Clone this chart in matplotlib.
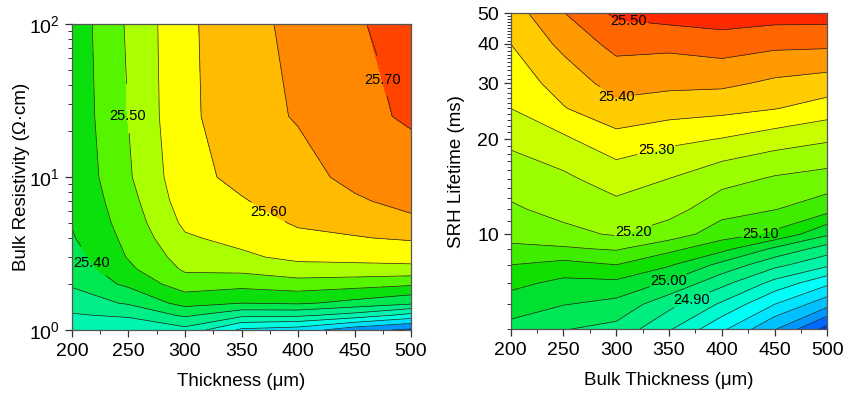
import numpy as np
import matplotlib.pyplot as plt
from matplotlib.ticker import LogLocator, LogFormatterMathtext, FixedLocator, NullFormatter

plt.rcParams.update({
    "font.family": ["Liberation Sans", "DejaVu Sans"],
    "mathtext.fontset": "custom",
    "mathtext.rm": "Liberation Sans",
    "font.size": 14,
})

# ---- data (simulated efficiency, %) ----
thickness = [200, 250, 300, 350, 400, 450, 500]          # um

# left panel: rows = bulk resistivity, columns = thickness
resistivity = [1, 1.25, 1.5, 2, 2.5, 3, 4, 5, 7, 10, 25, 100]   # Ohm.cm
eff_rho_200 = [25.27, 25.296, 25.323, 25.357, 25.369, 25.38, 25.396, 25.402, 25.406, 25.41, 25.415, 25.418]
eff_rho_250 = [25.265, 25.307, 25.356, 25.411, 25.44, 25.4535, 25.463, 25.471, 25.482, 25.494, 25.502, 25.507]
eff_rho_300 = [25.285, 25.359, 25.418, 25.477, 25.507, 25.521, 25.544, 25.56, 25.575, 25.583, 25.59, 25.59]
eff_rho_350 = [25.19, 25.314, 25.40, 25.468, 25.513, 25.542, 25.564, 25.577, 25.597, 25.613, 25.625, 25.631]
eff_rho_400 = [25.175, 25.311, 25.407, 25.48, 25.533, 25.561, 25.59, 25.605, 25.619, 25.634, 25.655, 25.664]
eff_rho_450 = [25.12, 25.282, 25.386, 25.472, 25.535, 25.564, 25.597, 25.617, 25.645, 25.662, 25.68, 25.693]
eff_rho_500 = [25.09, 25.234, 25.361, 25.459, 25.537, 25.568, 25.606, 25.642, 25.662, 25.676, 25.71, 25.725]

# right panel: rows = SRH lifetime, columns = thickness
lifetime = [5, 6, 7, 8, 9, 10, 12, 15, 20, 25, 30, 40, 50]     # ms
eff_tau_200 = [24.984, 25.026, 25.064, 25.10, 25.142, 25.164, 25.193, 25.223, 25.262, 25.30, 25.319, 25.35, 25.375]
eff_tau_250 = [24.952, 25.002, 25.037, 25.084, 25.144, 25.187, 25.216, 25.241, 25.292, 25.347, 25.372, 25.413, 25.448]
eff_tau_300 = [24.935, 24.985, 25.039, 25.10, 25.156, 25.205, 25.235, 25.273, 25.334, 25.386, 25.419, 25.466, 25.51]
eff_tau_350 = [24.855, 24.916, 24.993, 25.056, 25.115, 25.176, 25.219, 25.25, 25.314, 25.374, 25.412, 25.463, 25.525]
eff_tau_400 = [24.76, 24.842, 24.915, 24.986, 25.067, 25.124, 25.171, 25.218, 25.298, 25.367, 25.41, 25.477, 25.53]
eff_tau_450 = [24.653, 24.75, 24.834, 24.915, 24.992, 25.09, 25.152, 25.195, 25.276, 25.352, 25.391, 25.463, 25.525]
eff_tau_500 = [24.53, 24.668, 24.761, 24.86, 24.928, 25.008, 25.12, 25.183, 25.257, 25.328, 25.379, 25.461, 25.525]

# contour levels and band colours (Origin-like rainbow)
left_levels = [25.00, 25.10, 25.15, 25.20, 25.25, 25.30, 25.35, 25.40, 25.45,
               25.50, 25.55, 25.60, 25.65, 25.70, 25.80]
left_colors = ["#0050F0", "#0098FF", "#00E0FF", "#00FFE0", "#00F5B0", "#00EE88",
               "#00E850", "#0CE00C", "#55F500", "#AAFF00", "#FFFF00", "#FFBB00",
               "#FF8800", "#FF4400"]
left_labels = [(25.50, (247, 25)), (25.60, (368, 5.0)),
               (25.70, (474, 43)), (25.40, (213, 2.6))]

right_levels = [24.45, 24.55, 24.60, 24.65, 24.70, 24.75, 24.80, 24.85, 24.90,
                24.95, 25.00, 25.05, 25.10, 25.15, 25.20, 25.25, 25.30, 25.35,
                25.40, 25.45, 25.50, 25.60]
right_colors = ["#0038F0", "#0068FF", "#0098FF", "#00C0FF", "#00E4FF", "#00FFF8",
                "#00FAD0", "#00F4A8", "#00EE80", "#00E858", "#00E030", "#10E000",
                "#40EC00", "#70F800", "#9CFF00", "#C8FF00", "#FFFF00", "#FFCC00",
                "#FF9900", "#FF6600", "#FF2A00"]
right_labels = [(25.50, (312, 47)), (25.40, (300, 26.6)), (25.30, (336, 19.6)),
                (25.20, (317, 10)), (25.10, (437, 10)), (25.00, (347, 7.6)),
                (24.90, (369, 6.5))]

LINE_C = "#202020"
FRAME_C = "#555555"


def style_axes(ax):
    for s in ax.spines.values():
        s.set_color(FRAME_C)
        s.set_linewidth(0.9)
    ax.tick_params(which="both", direction="out", colors="#333333",
                   labelcolor="black", labelsize=14)
    ax.tick_params(which="major", length=5, width=0.9)
    ax.tick_params(which="minor", length=3, width=0.7)
    ax.tick_params(axis="x", which="major", pad=4.5)
    ax.set_xlim(200, 500)
    ax.xaxis.set_major_locator(FixedLocator([200, 250, 300, 350, 400, 450, 500]))
    ax.xaxis.set_minor_locator(FixedLocator([225, 275, 325, 375, 425, 475]))


def draw_contours(ax, X, Y, Z, levels, colors, labels):
    ax.contourf(X, Y, Z, levels=levels, colors=colors)
    labelled = [lev for lev, _ in labels]
    plain = [lev for lev in levels[1:-1] if lev not in labelled]
    ax.contour(X, Y, Z, levels=plain, colors=LINE_C, linewidths=0.5)
    # one contour set per labelled level, so the label breaks its own line
    for lev, pos in labels:
        cs = ax.contour(X, Y, Z, levels=[lev], colors=LINE_C, linewidths=0.5)
        texts = cs.clabel(manual=[pos], inline=True, fmt="%.2f", fontsize=10.5,
                          colors="black", inline_spacing=1)
        for t in texts:
            t.set_rotation(0)


fig = plt.figure(figsize=(8.45, 3.94), dpi=100)
axL = fig.add_axes([0.0852, 0.1624, 0.4012, 0.7759])
axR = fig.add_axes([0.6044, 0.1642, 0.3747, 0.8020])

# ---- left: thickness vs bulk resistivity ----
ZL = np.array([eff_rho_200, eff_rho_250, eff_rho_300, eff_rho_350,
               eff_rho_400, eff_rho_450, eff_rho_500]).T
XL, YL = np.meshgrid(thickness, resistivity)
axL.set_yscale("log")
axL.set_ylim(1, 100)
style_axes(axL)
draw_contours(axL, XL, YL, ZL, left_levels, left_colors, left_labels)
axL.set_xlim(200, 500)
axL.set_ylim(1, 100)
axL.yaxis.set_major_locator(LogLocator(base=10))
axL.yaxis.set_major_formatter(LogFormatterMathtext())
axL.yaxis.set_minor_locator(LogLocator(base=10, subs=np.arange(2, 10)))
axL.yaxis.set_minor_formatter(NullFormatter())
axL.set_xlabel("Thickness (\u03bcm)", fontsize=13.5)
axL.set_ylabel("Bulk Resistivity (\u03a9\u00b7cm)", fontsize=13.5)
axL.xaxis.set_label_coords(0.5, -0.14)
axL.yaxis.set_label_coords(-0.124, 0.5)

# ---- right: bulk thickness vs SRH lifetime ----
ZR = np.array([eff_tau_200, eff_tau_250, eff_tau_300, eff_tau_350,
               eff_tau_400, eff_tau_450, eff_tau_500]).T
XR, YR = np.meshgrid(thickness, lifetime)
axR.set_yscale("log")
axR.set_ylim(5, 50)
style_axes(axR)
draw_contours(axR, XR, YR, ZR, right_levels, right_colors, right_labels)
axR.set_xlim(200, 500)
axR.set_ylim(5, 50)
axR.yaxis.set_major_locator(FixedLocator([10, 20, 30, 40, 50]))
axR.yaxis.set_major_formatter(plt.FixedFormatter(["10", "20", "30", "40", "50"]))
axR.yaxis.set_minor_locator(FixedLocator([v for v in range(5, 51) if v % 10]))
axR.yaxis.set_minor_formatter(NullFormatter())
axR.set_xlabel("Bulk Thickness (\u03bcm)", fontsize=13.5)
axR.set_ylabel("SRH Lifetime (ms)", fontsize=13.5)
axR.xaxis.set_label_coords(0.5, -0.134)
axR.yaxis.set_label_coords(-0.144, 0.5)

fig.savefig("out.png", dpi=100)
